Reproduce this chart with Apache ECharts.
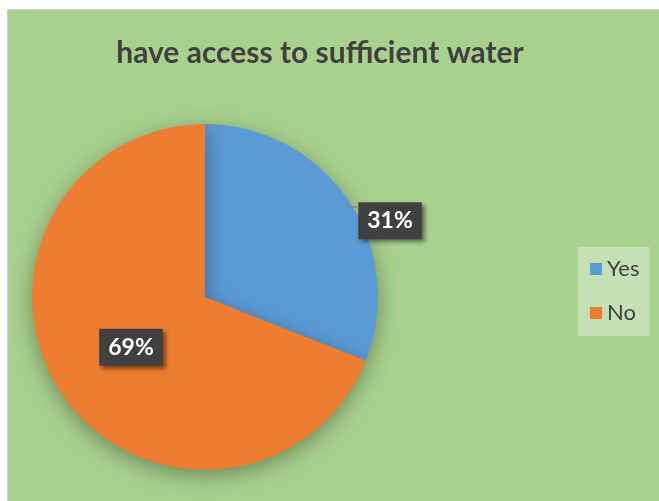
<!DOCTYPE html>
<html>
<head>
<meta charset="utf-8">
<script src="https://cdn.jsdelivr.net/npm/echarts@6/dist/echarts.min.js"></script>
<style>
  html, body { margin: 0; padding: 0; background: #ffffff; }
  #chart { width: 659px; height: 501px; }
</style>
</head>
<body>
<div id="chart"></div>
<script>
const titleText = 'have access to sufficient water';
const categories = ['Yes', 'No'];
const values = [31, 69];
const colors = ['#5B9BD5', '#ED7D31'];

const chart = echarts.init(document.getElementById('chart'), null, { renderer: 'canvas' });

const fontFam = 'Lato, "Open Sans", sans-serif';

const option = {
  backgroundColor: '#ffffff',
  animation: false,
  graphic: [
    {
      type: 'rect', z: -10, silent: true,
      shape: { x: 8, y: 10, width: 659, height: 501 },
      style: { fill: '#A9D18E', stroke: '#BFBFBF', lineWidth: 1.5 }
    },
    {
      type: 'polyline', z: 10, silent: true,
      shape: { points: [[347, 201], [347, 207], [357, 207]] },
      style: { stroke: '#7F7F7F', lineWidth: 1.2, fill: null }
    }
  ],
  title: {
    text: titleText,
    left: 315,
    top: 33,
    textAlign: 'center',
    textStyle: { color: '#404040', fontSize: 30, fontWeight: 'bold', fontFamily: fontFam }
  },
  legend: {
    orient: 'vertical',
    left: 578,
    top: 247,
    padding: [11, 10, 12, 12],
    backgroundColor: '#C5E0B4',
    itemWidth: 12,
    itemHeight: 12,
    itemGap: 22,
    icon: 'rect',
    data: categories,
    textStyle: { color: '#404040', fontSize: 22, fontFamily: fontFam }
  },
  series: [{
    type: 'pie',
    center: [205, 297],
    radius: 173,
    startAngle: 90,
    clockwise: true,
    avoidLabelOverlap: false,
    itemStyle: {
      shadowBlur: 22,
      shadowColor: 'rgba(0,0,0,0.35)',
      shadowOffsetY: 6
    },
    label: {
      show: true,
      position: 'inside',
      formatter: '{d}%',
      color: '#ffffff',
      fontSize: 23,
      fontWeight: 'bold',
      fontFamily: fontFam,
      backgroundColor: '#404040',
      padding: [8, 9, 6, 9],
      shadowBlur: 4,
      shadowOffsetX: 3,
      shadowOffsetY: 3,
      shadowColor: 'rgba(0,0,0,0.45)'
    },
    labelLine: { show: false },
    labelLayout: function (params) {
      if (params.dataIndex === 0) {
        return { dx: 111, dy: -26 };
      }
      return {};
    },
    data: categories.map((c, i) => ({ name: c, value: values[i], itemStyle: { color: colors[i] } }))
  }]
};

chart.setOption(option);
</script>
</body>
</html>
